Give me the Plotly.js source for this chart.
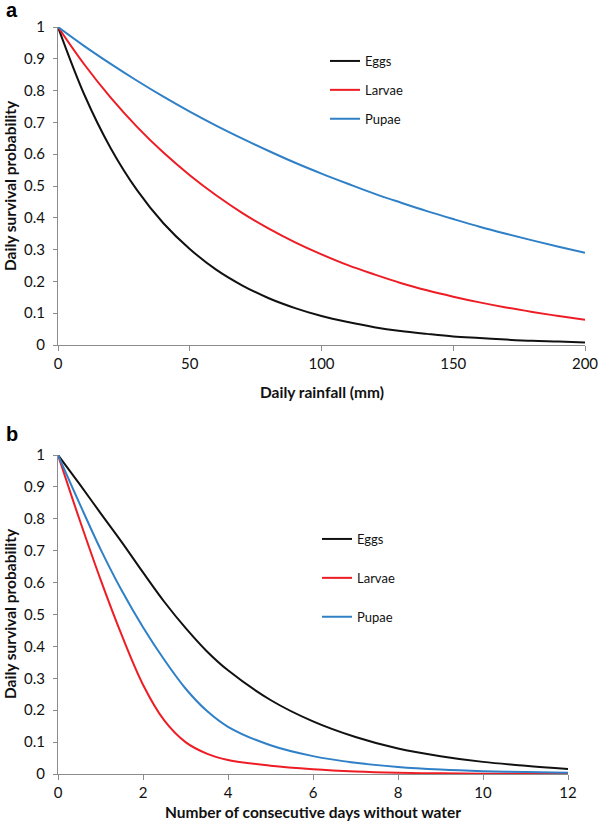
<!DOCTYPE html>
<html>
<head>
<meta charset="utf-8">
<script src="https://cdn.plot.ly/plotly-3.0.1.min.js"></script>
<style>
  body { margin: 0; background: #fff; }
  #chart { width: 600px; height: 828px; }
</style>
</head>
<body>
<div id="chart"></div>
<script>
// panel a: daily rainfall (mm)
var rainfall = [0, 10, 20, 30, 40, 50, 60, 70, 80, 90, 100, 110, 120, 130, 140, 150, 160, 170, 180, 190, 200];
var eggsRain = [1, 0.787, 0.619, 0.487, 0.383, 0.302, 0.237, 0.187, 0.147, 0.116, 0.091, 0.072, 0.056, 0.044, 0.035, 0.027, 0.022, 0.017, 0.013, 0.011, 0.008];
var larvaeRain = [1, 0.882, 0.778, 0.686, 0.605, 0.534, 0.471, 0.415, 0.366, 0.323, 0.285, 0.251, 0.222, 0.195, 0.172, 0.152, 0.134, 0.118, 0.104, 0.091, 0.079];
var pupaeRain = [1, 0.94, 0.884, 0.831, 0.781, 0.734, 0.69, 0.649, 0.61, 0.573, 0.539, 0.507, 0.476, 0.448, 0.421, 0.396, 0.372, 0.35, 0.329, 0.309, 0.29];

// panel b: consecutive days without water
var days = [0, 0.5, 1, 1.5, 2, 2.5, 3, 3.5, 4, 5, 6, 7, 8, 9, 10, 11, 12];
var eggsDry = [1, 0.91, 0.818, 0.727, 0.632, 0.54, 0.458, 0.385, 0.325, 0.232, 0.165, 0.116, 0.08, 0.056, 0.038, 0.026, 0.016];
var larvaeDry = [1, 0.8, 0.61, 0.435, 0.28, 0.168, 0.1, 0.064, 0.044, 0.026, 0.015, 0.008, 0.004, 0.002, 0.001, 0.0006, 0.0003];
var pupaeDry = [1, 0.85, 0.705, 0.575, 0.46, 0.358, 0.268, 0.198, 0.148, 0.09, 0.056, 0.035, 0.022, 0.014, 0.009, 0.006, 0.004];

var names = ["Eggs", "Larvae", "Pupae"];
var colors = ["#111111", "#ee1c24", "#2f80c6"];

var W = 600, H = 828;
function px(x) { return x / W; }
function py(y) { return 1 - y / H; }

var data = [];
[eggsRain, larvaeRain, pupaeRain].forEach(function (ys, i) {
  data.push({
    x: rainfall, y: ys, name: names[i], type: "scatter", mode: "lines",
    line: {color: colors[i], width: 2, shape: "spline"},
    xaxis: "x", yaxis: "y", legend: "legend",
    legendgroup: "a" + i
  });
});
[eggsDry, larvaeDry, pupaeDry].forEach(function (ys, i) {
  data.push({
    x: days, y: ys, name: names[i], type: "scatter", mode: "lines",
    line: {color: colors[i], width: 2, shape: "spline"},
    xaxis: "x2", yaxis: "y2", legend: "legend2",
    legendgroup: "b" + i
  });
});

var tickFont = {family: "Lato, sans-serif", size: 15, color: "#111"};
var axisBase = {
  showgrid: false, zeroline: false, showline: true,
  linecolor: "#8c8c8c", linewidth: 1,
  ticks: "outside", tickcolor: "#8c8c8c", ticklen: 5,
  tickfont: tickFont, automargin: false, fixedrange: true,
  ticklabeloverflow: "allow"
};

function axis(extra) { return Object.assign({}, axisBase, extra); }

var titleFont = {family: "Lato, sans-serif", size: 15.5, color: "#111", weight: "bold"};
var letterFont = {family: "Liberation Sans, Arial, sans-serif", size: 20, color: "#000", weight: "bold"};

var layout = {
  width: W, height: H,
  margin: {l: 0, r: 0, t: 0, b: 0},
  paper_bgcolor: "#fff", plot_bgcolor: "#fff",
  xaxis: axis({domain: [px(58), px(585)], range: [0, 200], dtick: 50, anchor: "y"}),
  yaxis: axis({domain: [py(345), py(27)], range: [0, 1], dtick: 0.1, anchor: "x", ticklen: 4, ticklabelstandoff: 5}),
  xaxis2: axis({domain: [px(58), px(568)], range: [0, 12], dtick: 2, anchor: "y2"}),
  yaxis2: axis({domain: [py(774), py(455)], range: [0, 1], dtick: 0.1, anchor: "x2", ticklen: 4, ticklabelstandoff: 5}),
  legend: {
    x: px(325), y: py(46), xanchor: "left", yanchor: "top",
    traceorder: "grouped", tracegroupgap: 9,
    font: {family: "Lato, sans-serif", size: 13, color: "#111"},
    bgcolor: "rgba(0,0,0,0)"
  },
  legend2: {
    x: px(317), y: py(524), xanchor: "left", yanchor: "top",
    traceorder: "grouped", tracegroupgap: 19,
    font: {family: "Lato, sans-serif", size: 13, color: "#111"},
    bgcolor: "rgba(0,0,0,0)"
  },
  showlegend: true,
  annotations: [
    {text: "a", x: px(4), y: py(10), xref: "paper", yref: "paper", xanchor: "left", yanchor: "middle", showarrow: false, font: letterFont},
    {text: "b", x: px(4), y: py(434), xref: "paper", yref: "paper", xanchor: "left", yanchor: "middle", showarrow: false, font: letterFont},
    {text: "Daily rainfall (mm)", x: px(322), y: py(392), xref: "paper", yref: "paper", xanchor: "center", yanchor: "middle", showarrow: false, font: titleFont},
    {text: "Number of consecutive days without water", x: px(313), y: py(812), xref: "paper", yref: "paper", xanchor: "center", yanchor: "middle", showarrow: false, font: titleFont},
    {text: "Daily survival probability", x: px(10), y: py(186), xref: "paper", yref: "paper", xanchor: "center", yanchor: "middle", textangle: -90, showarrow: false, font: titleFont},
    {text: "Daily survival probability", x: px(10), y: py(614), xref: "paper", yref: "paper", xanchor: "center", yanchor: "middle", textangle: -90, showarrow: false, font: titleFont}
  ]
};

Plotly.newPlot("chart", data, layout, {displayModeBar: false, staticPlot: true});
</script>
</body>
</html>
